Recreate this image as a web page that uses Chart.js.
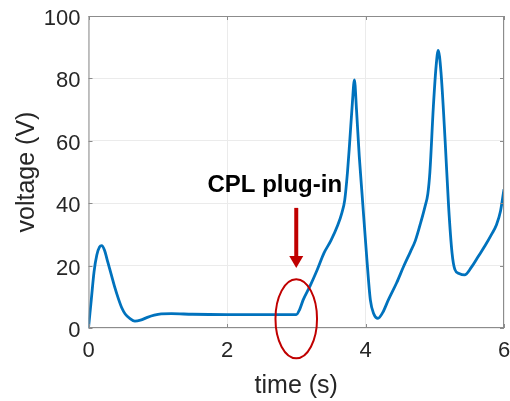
<!DOCTYPE html>
<html>
<head>
<meta charset="utf-8">
<script src="https://cdn.jsdelivr.net/npm/chart.js@4.4.1/dist/chart.umd.min.js"></script>
<style>
    body { margin: 0; background: #fff; }
    #wrap { width: 510px; height: 401px; }
</style>
</head>
<body>
<div id="wrap"><canvas id="voltChart" width="510" height="401"></canvas></div>
<script>
// time (s) and voltage (V)
const times = [0, 0.04, 0.08, 0.12, 0.16, 0.19, 0.23, 0.28, 0.33, 0.38, 0.43, 0.48, 0.53, 0.6, 0.67,
    0.75, 0.85, 0.95, 1.05, 1.2, 1.5, 2.0, 2.5, 2.8, 3.0, 3.05, 3.1, 3.2, 3.3, 3.4, 3.5, 3.6, 3.66,
    3.7, 3.74, 3.77, 3.81, 3.84, 3.87, 3.91, 3.95, 4.02, 4.07, 4.12, 4.18, 4.25, 4.33, 4.45, 4.55,
    4.65, 4.72, 4.8, 4.86, 4.9, 4.93, 4.98, 5.02, 5.05, 5.09, 5.15, 5.2, 5.25, 5.29, 5.35, 5.43,
    5.53, 5.63, 5.73, 5.82, 5.89, 5.95, 6.0];
const voltage = [0, 9, 18, 23.4, 26, 26.4, 25, 21, 17, 13, 9.5, 6.5, 4.5, 3, 2.2,
    2.5, 3.4, 4.1, 4.5, 4.6, 4.4, 4.3, 4.3, 4.3, 4.3, 6, 9, 13.5, 18.5, 24, 28, 33, 37,
    41, 50, 59, 72, 79.5, 70, 55, 43, 22, 9, 4.5, 3.1, 5, 9, 14.5, 19.7,
    24.5, 28, 34, 39, 43, 50, 71, 84, 89, 82, 60, 39, 24, 18.8, 17.5, 17,
    19.5, 23, 26.5, 30, 33, 37.5, 44.5];
const xTicks = [0, 2, 4, 6];
const yTicks = [0, 20, 40, 60, 80, 100];

const points = times.map((t, i) => ({ x: t, y: voltage[i] }));

const frameColor = '#8c8c8c';
const textColor = '#262626';
const fontFamily = '"Liberation Sans", Arial, sans-serif';

// box round the plot with short inward ticks
const framePlugin = {
    id: 'frame',
    afterDraw(chart) {
        const { ctx, chartArea: a, scales: { x, y } } = chart;
        ctx.save();
        ctx.strokeStyle = frameColor;
        ctx.lineWidth = 1;
        ctx.strokeRect(a.left + 0.5, a.top + 0.5, a.right - a.left - 1, a.bottom - a.top - 1);
        ctx.beginPath();
        xTicks.forEach(v => {
            const px = Math.round(x.getPixelForValue(v)) + 0.5;
            ctx.moveTo(px, a.bottom); ctx.lineTo(px, a.bottom - 4);
            ctx.moveTo(px, a.top); ctx.lineTo(px, a.top + 4);
        });
        yTicks.forEach(v => {
            const py = Math.round(y.getPixelForValue(v)) + 0.5;
            ctx.moveTo(a.left, py); ctx.lineTo(a.left + 4, py);
            ctx.moveTo(a.right, py); ctx.lineTo(a.right - 4, py);
        });
        ctx.stroke();
        ctx.restore();
    }
};

// "CPL plug-in" label, arrow and ellipse
const notePlugin = {
    id: 'note',
    afterDraw(chart) {
        const { ctx, scales: { x, y } } = chart;
        const red = '#c00000';
        ctx.save();
        ctx.fillStyle = '#000';
        ctx.font = 'bold 24px ' + fontFamily;
        ctx.textAlign = 'center';
        ctx.textBaseline = 'middle';
        ctx.fillText('CPL plug-in', x.getPixelForValue(2.69), y.getPixelForValue(45.8));

        const ax = x.getPixelForValue(3.0);
        const y0 = y.getPixelForValue(38.5);
        const y1 = y.getPixelForValue(19.2);
        ctx.strokeStyle = red;
        ctx.fillStyle = red;
        ctx.lineWidth = 4;
        ctx.beginPath();
        ctx.moveTo(ax, y0);
        ctx.lineTo(ax, y1 - 10);
        ctx.stroke();
        ctx.beginPath();
        ctx.moveTo(ax - 7, y1 - 12);
        ctx.lineTo(ax + 7, y1 - 12);
        ctx.lineTo(ax, y1);
        ctx.closePath();
        ctx.fill();

        const cx = x.getPixelForValue(3.0);
        const cy = y.getPixelForValue(2.95);
        const rx = x.getPixelForValue(3.3) - cx;
        const ry = cy - y.getPixelForValue(15.6);
        ctx.lineWidth = 2;
        ctx.beginPath();
        ctx.ellipse(cx, cy, rx, ry, 0, 0, Math.PI * 2);
        ctx.stroke();
        ctx.restore();
    }
};

document.addEventListener('DOMContentLoaded', function () {
    const ctx = document.getElementById('voltChart');
    new Chart(ctx, {
        type: 'line',
        data: {
            datasets: [{
                data: points,
                borderColor: '#0072bd',
                borderWidth: 2.8,
                pointRadius: 0,
                fill: false,
                cubicInterpolationMode: 'monotone'
            }]
        },
        options: {
            responsive: false,
            animation: false,
            layout: { padding: { top: 16, right: 6, left: 0, bottom: 0 } },
            plugins: {
                legend: { display: false },
                tooltip: { enabled: false }
            },
            scales: {
                x: {
                    type: 'linear',
                    min: 0,
                    max: 6,
                    afterFit: s => { s.height = 73; s.paddingLeft = 0; s.paddingRight = 0; },
                    afterBuildTicks: s => { s.ticks = xTicks.map(v => ({ value: v })); },
                    grid: { color: '#ebebeb', drawTicks: false },
                    border: { display: false },
                    ticks: {
                        color: textColor,
                        padding: 10,
                        font: { size: 22, family: fontFamily }
                    },
                    title: {
                        display: true,
                        text: 'time (s)',
                        color: textColor,
                        padding: { top: 0, bottom: 0 },
                        font: { size: 25, family: fontFamily }
                    }
                },
                y: {
                    min: 0,
                    max: 100,
                    afterFit: s => { s.width = 88.5; s.paddingTop = 0; s.paddingBottom = 0; },
                    afterBuildTicks: s => { s.ticks = yTicks.map(v => ({ value: v })); },
                    grid: { color: '#ebebeb', drawTicks: false },
                    border: { display: false },
                    ticks: {
                        color: textColor,
                        padding: 8,
                        labelOffset: 3,
                        font: { size: 22, family: fontFamily }
                    },
                    title: {
                        display: true,
                        text: 'voltage (V)',
                        color: textColor,
                        padding: { top: 12, bottom: 0 },
                        font: { size: 25, family: fontFamily }
                    }
                }
            }
        },
        plugins: [framePlugin, notePlugin]
    });
});
</script>
</body>
</html>
